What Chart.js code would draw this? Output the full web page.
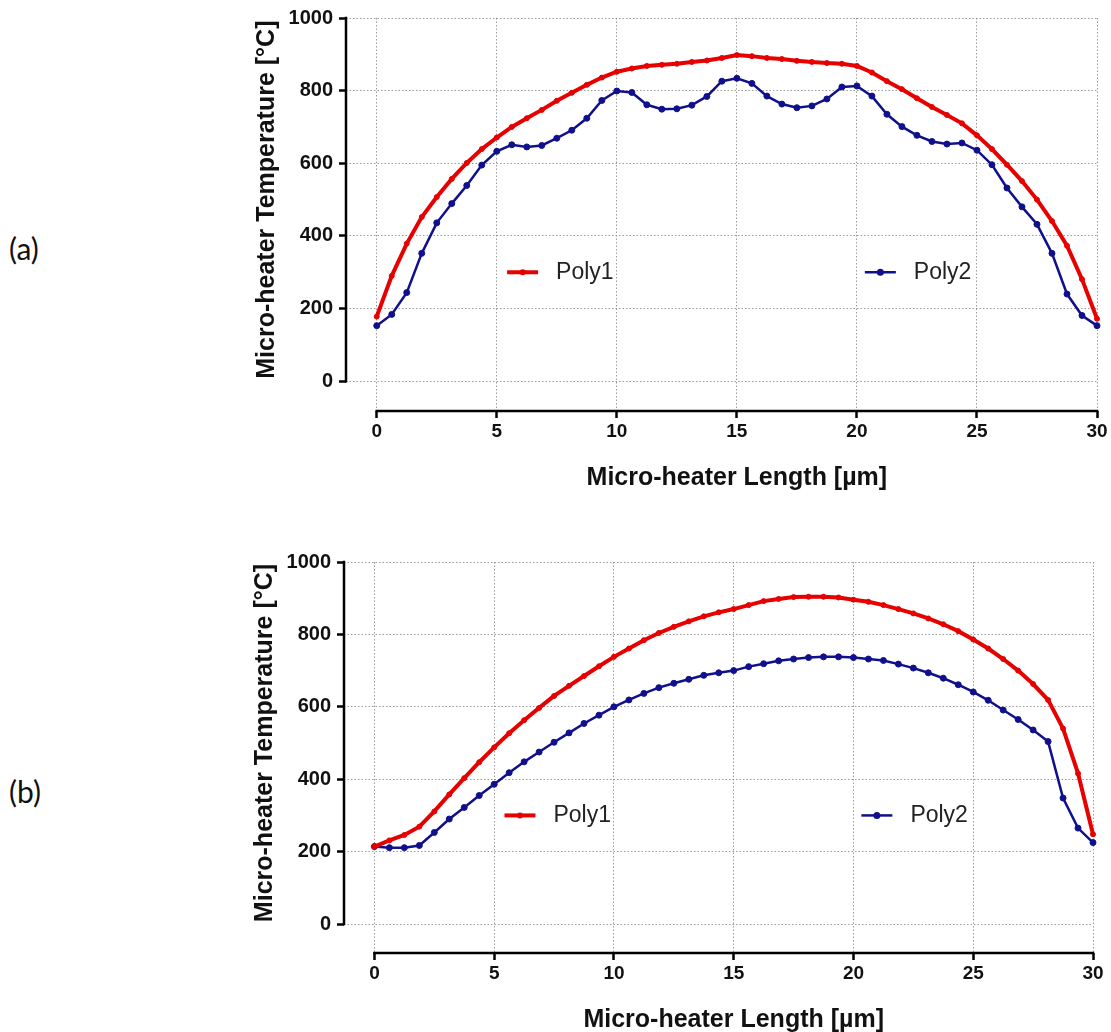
<!DOCTYPE html>
<html>
<head>
<meta charset="utf-8">
<title>Micro-heater temperature</title>
<script src="https://cdn.jsdelivr.net/npm/chart.js@4.4.1/dist/chart.umd.min.js"></script>
<style>
  html, body { margin: 0; padding: 0; background: #fff; }
  body { width: 1111px; height: 1032px; position: relative; overflow: hidden; }
  canvas { position: absolute; left: 0; }
  #chartA { top: 0; }
  #chartB { top: 540px; }
  .panel { position: absolute; left: 9px; font-family: Lato, "Open Sans", sans-serif; font-size: 30px; line-height: 30px; color: #111; }
</style>
</head>
<body>
<div class="panel" style="top:233px">(a)</div>
<div class="panel" style="top:776px">(b)</div>
<canvas id="chartA" width="1111" height="500"></canvas>
<canvas id="chartB" width="1111" height="492"></canvas>
<script>
// Position along the heater, µm
const lengthUm = [
  0, 0.625, 1.25, 1.875, 2.5, 3.125, 3.75, 4.375, 5, 5.625, 6.25, 6.875,
  7.5, 8.125, 8.75, 9.375, 10, 10.625, 11.25, 11.875, 12.5, 13.125, 13.75, 14.375,
  15, 15.625, 16.25, 16.875, 17.5, 18.125, 18.75, 19.375, 20, 20.625, 21.25, 21.875,
  22.5, 23.125, 23.75, 24.375, 25, 25.625, 26.25, 26.875, 27.5, 28.125, 28.75, 29.375, 30
];

// (a) temperature along the heater, °C
const polyA1 = [
  178, 290, 379, 452, 507, 557, 601, 639, 671, 700, 724, 747,
  772, 794, 816, 836, 852, 861, 868, 871, 874, 879, 883, 890,
  898, 895, 890, 887, 882, 879, 876, 874, 868, 850, 826, 804,
  779, 755, 733, 710, 677, 639, 596, 551, 500, 441, 373, 281, 172
];
const polyA2 = [
  153, 184, 244, 352, 436, 489, 539, 595, 633, 651, 645, 649,
  669, 691, 724, 773, 799, 795, 761, 749, 750, 760, 784, 826,
  834, 820, 785, 763, 753, 758, 777, 810, 813, 785, 735, 701,
  677, 660, 653, 656, 636, 596, 532, 480, 432, 352, 240, 181, 153
];

// (b) temperature along the heater, °C
const polyB1 = [
  214, 231, 246, 269, 311, 358, 403, 447, 488, 527, 563, 597,
  630, 658, 685, 712, 738, 761, 784, 804, 821, 836, 850, 861,
  870, 881, 892, 898, 903, 904, 904, 902, 896, 890, 881, 870,
  858, 844, 828, 809, 786, 761, 732, 700, 663, 619, 540, 416, 248
];
const polyB2 = [
  214, 211, 211, 217, 253, 290, 322, 355, 386, 418, 448, 475,
  502, 528, 554, 577, 600, 619, 637, 653, 665, 676, 687, 694,
  700, 711, 719, 727, 732, 736, 738, 738, 736, 732, 728, 718,
  707, 694, 679, 661, 641, 618, 591, 565, 536, 504, 348, 265, 225
];

const seriesNames = ["Poly1", "Poly2"];
const xTickValues = [0, 5, 10, 15, 20, 25, 30];
const yTickValues = [0, 200, 400, 600, 800, 1000];
const xTitle = "Micro-heater Length [\u00b5m]";
const yTitle = "Micro-heater Temperature [\u00b0C]";

const RED = "rgb(230, 0, 0)";
const NAVY = "rgb(16, 16, 140)";
const GRID = "rgba(120, 120, 120, 0.75)";
const FONT = "'Liberation Sans', Arial, Helvetica, sans-serif";

const xFirst = xTickValues[0];
const xLast = xTickValues[xTickValues.length - 1];
const yFirst = yTickValues[0];
const yLast = yTickValues[yTickValues.length - 1];

// Offset (Prism-style) axis lines, axis titles and the legend inside the plot
const prismFrame = {
  id: "prismFrame",
  afterDatasetsDraw(chart, args, opts) {
    const { ctx, chartArea } = chart;
    const xs = chart.scales.x;
    const ys = chart.scales.y;
    const x0 = xs.getPixelForValue(xFirst);
    const x1 = xs.getPixelForValue(xLast);
    const y0 = ys.getPixelForValue(yFirst);
    const y1 = ys.getPixelForValue(yLast);

    ctx.save();
    ctx.strokeStyle = "#000";
    ctx.lineWidth = 2.5;
    ctx.beginPath();
    ctx.moveTo(chartArea.left, y1 - 1.25);
    ctx.lineTo(chartArea.left, y0 + 1.25);
    ctx.moveTo(x0 - 1.25, chartArea.bottom);
    ctx.lineTo(x1 + 1.25, chartArea.bottom);
    ctx.stroke();

    ctx.fillStyle = "#111";
    ctx.font = "bold 25px " + FONT;
    ctx.textAlign = "center";
    ctx.textBaseline = "alphabetic";
    ctx.fillText(xTitle, (x0 + x1) / 2, chartArea.bottom + opts.xTitleGap);
    ctx.translate(chartArea.left - opts.yTitleGap, (y0 + y1) / 2);
    ctx.rotate(-Math.PI / 2);
    ctx.fillText(yTitle, 0, 0);
    ctx.restore();

    ctx.save();
    ctx.font = "23px " + FONT;
    ctx.textAlign = "left";
    ctx.textBaseline = "alphabetic";
    chart.data.datasets.forEach((ds, i) => {
      const spot = opts.legendAt[i];
      const px = xs.getPixelForValue(spot[0]);
      const py = ys.getPixelForValue(spot[1]);
      ctx.strokeStyle = ds.borderColor;
      ctx.lineWidth = ds.borderWidth;
      ctx.beginPath();
      ctx.moveTo(px, py);
      ctx.lineTo(px + 31, py);
      ctx.stroke();
      ctx.fillStyle = ds.borderColor;
      ctx.beginPath();
      ctx.arc(px + 15.5, py, ds.pointRadius + 0.5, 0, Math.PI * 2);
      ctx.fill();
      ctx.fillStyle = "#222";
      ctx.fillText(ds.label, px + 49, py + 7);
    });
    ctx.restore();
  }
};

function series(values) {
  return lengthUm.map((x, i) => ({ x: x, y: values[i] }));
}

function makeChart(id, hot, cool, frame) {
  return new Chart(document.getElementById(id), {
    type: "line",
    data: {
      datasets: [
        {
          label: seriesNames[0],
          data: series(hot),
          borderColor: RED,
          backgroundColor: RED,
          borderWidth: 4,
          pointRadius: 2.5,
          pointBorderWidth: 1,
          tension: 0,
          clip: false
        },
        {
          label: seriesNames[1],
          data: series(cool),
          borderColor: NAVY,
          backgroundColor: NAVY,
          borderWidth: 2.5,
          pointRadius: 3,
          pointBorderWidth: 1,
          tension: 0,
          clip: false
        }
      ]
    },
    options: {
      responsive: false,
      animation: false,
      layout: { padding: { top: frame.top, right: frame.right, left: 0, bottom: 0 } },
      plugins: {
        legend: { display: false },
        tooltip: { enabled: false },
        prismFrame: {
          xTitleGap: 74,
          yTitleGap: 72,
          legendAt: [[5.43, 300], [20.33, 300]]
        }
      },
      scales: {
        x: {
          type: "linear",
          min: frame.xMin,
          max: xLast,
          afterFit: (s) => { s.height = frame.xHeight; },
          afterBuildTicks: (s) => { s.ticks = xTickValues.map((v) => ({ value: v })); },
          grid: {
            color: GRID,
            lineWidth: 1,
            tickLength: 7,
            tickColor: "#000",
            tickWidth: 2.5,
            tickBorderDash: []
          },
          border: { display: false, dash: [1.5, 2] },
          ticks: {
            autoSkip: false,
            maxRotation: 0,
            padding: 2,
            color: "#111",
            font: { family: FONT, size: 19, weight: "bold" },
            callback: (v) => String(v)
          }
        },
        y: {
          min: frame.yMin,
          max: yLast,
          afterFit: (s) => { s.width = frame.yWidth; },
          afterBuildTicks: (s) => { s.ticks = yTickValues.map((v) => ({ value: v })); },
          grid: {
            color: GRID,
            lineWidth: 1,
            tickLength: 7,
            tickColor: "#000",
            tickWidth: 2.5,
            tickBorderDash: []
          },
          border: { display: false, dash: [1.5, 2] },
          ticks: {
            autoSkip: false,
            padding: 6,
            color: "#111",
            font: { family: FONT, size: 20, weight: "bold" },
            callback: (v) => String(v)
          }
        }
      }
    },
    plugins: [prismFrame]
  });
}

makeChart("chartA", polyA1, polyA2, { top: 16, right: 14, yWidth: 346, xHeight: 89, xMin: -1.28, yMin: -82 });
makeChart("chartB", polyB1, polyB2, { top: 22, right: 18, yWidth: 344, xHeight: 79, xMin: -1.27, yMin: -80 });
</script>
</body>
</html>
